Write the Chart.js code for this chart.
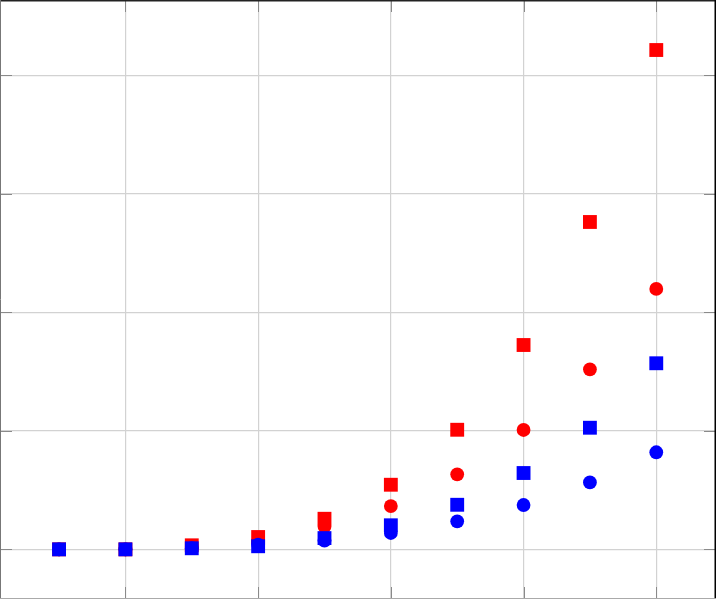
<!DOCTYPE html>
<html>
<head>
<meta charset="utf-8">
<script src="https://cdn.jsdelivr.net/npm/chart.js@4.4.1/dist/chart.umd.min.js"></script>
<style>
  html, body { margin: 0; padding: 0; background: #fff; }
  #wrap { width: 716px; height: 599px; position: relative; }
</style>
</head>
<body>
<div id="wrap"><canvas id="c" width="716" height="599"></canvas></div>
<script>
const xValues = [1, 2, 3, 4, 5, 6, 7, 8, 9, 10];
const redSquares  = [0, 0, 0.034, 0.104, 0.258, 0.545, 1.009, 1.724, 2.762, 4.213];
const redCircles  = [0, 0, 0.02, 0.07, 0.192, 0.365, 0.633, 1.007, 1.519, 2.197];
const blueSquares = [0, 0, 0.009, 0.026, 0.095, 0.203, 0.376, 0.644, 1.026, 1.570];
const blueCircles = [0, 0, 0.010, 0.040, 0.074, 0.138, 0.236, 0.374, 0.565, 0.819];
const xTicks = [2, 4, 6, 8, 10];
const yTicks = [0, 1, 2, 3, 4];

function pts(ys) { return xValues.map((x, i) => ({ x: x, y: ys[i] })); }

const framePlugin = {
  id: 'frame',
  afterDraw(chart) {
    const ctx = chart.ctx;
    const a = chart.chartArea;
    const xs = chart.scales.x, ys = chart.scales.y;
    ctx.save();
    ctx.strokeStyle = '#8a8a8a';
    ctx.lineWidth = 1;
    const L = 12;
    xTicks.forEach(v => {
      const px = Math.round(xs.getPixelForValue(v)) + 0.5;
      ctx.beginPath();
      ctx.moveTo(px, a.top); ctx.lineTo(px, a.top + L);
      ctx.moveTo(px, a.bottom); ctx.lineTo(px, a.bottom - L);
      ctx.stroke();
    });
    yTicks.forEach(v => {
      const py = Math.round(ys.getPixelForValue(v)) + 0.5;
      ctx.beginPath();
      ctx.moveTo(a.left, py); ctx.lineTo(a.left + L, py);
      ctx.moveTo(a.right, py); ctx.lineTo(a.right - L, py);
      ctx.stroke();
    });
    ctx.lineWidth = 1.5;
    ctx.strokeStyle = '#222';
    ctx.beginPath(); ctx.moveTo(a.left, a.top + 0.75); ctx.lineTo(a.right, a.top + 0.75); ctx.stroke();
    ctx.strokeStyle = '#000';
    ctx.beginPath(); ctx.moveTo(a.right - 0.75, a.top); ctx.lineTo(a.right - 0.75, a.bottom); ctx.stroke();
    ctx.lineWidth = 1;
    ctx.strokeStyle = '#777';
    ctx.beginPath(); ctx.moveTo(a.left + 0.5, a.top); ctx.lineTo(a.left + 0.5, a.bottom); ctx.stroke();
    ctx.strokeStyle = '#aaa';
    ctx.beginPath(); ctx.moveTo(a.left, a.bottom - 0.5); ctx.lineTo(a.right, a.bottom - 0.5); ctx.stroke();
    ctx.restore();
  }
};

new Chart(document.getElementById('c'), {
  type: 'scatter',
  data: {
    datasets: [
      { label: 'red squares', data: pts(redSquares), pointStyle: 'rect', pointRadius: 9.8, backgroundColor: '#ff0000', borderWidth: 0, order: 4 },
      { label: 'red circles', data: pts(redCircles), pointStyle: 'circle', pointRadius: 6.9, backgroundColor: '#ff0000', borderWidth: 0, order: 3 },
      { label: 'blue squares', data: pts(blueSquares), pointStyle: 'rect', pointRadius: 9.8, backgroundColor: '#0000ff', borderWidth: 0, order: 2 },
      { label: 'blue circles', data: pts(blueCircles), pointStyle: 'circle', pointRadius: 6.9, backgroundColor: '#0000ff', borderWidth: 0, order: 1 }
    ]
  },
  options: {
    responsive: false,
    animation: false,
    devicePixelRatio: 1,
    layout: { padding: 0, autoPadding: false },
    plugins: { legend: { display: false }, tooltip: { enabled: false } },
    scales: {
      x: {
        type: 'linear', min: 0.11, max: 10.9,
        afterBuildTicks: s => { s.ticks = xTicks.map(v => ({ value: v })); },
        ticks: { display: false },
        grid: { color: '#d2d2d2', lineWidth: 1.2, drawTicks: false },
        border: { display: false }
      },
      y: {
        type: 'linear', min: -0.419, max: 4.635,
        afterBuildTicks: s => { s.ticks = yTicks.map(v => ({ value: v })); },
        ticks: { display: false },
        grid: { color: '#d2d2d2', lineWidth: 1.2, drawTicks: false },
        border: { display: false }
      }
    }
  },
  plugins: [framePlugin]
});
</script>
</body>
</html>
